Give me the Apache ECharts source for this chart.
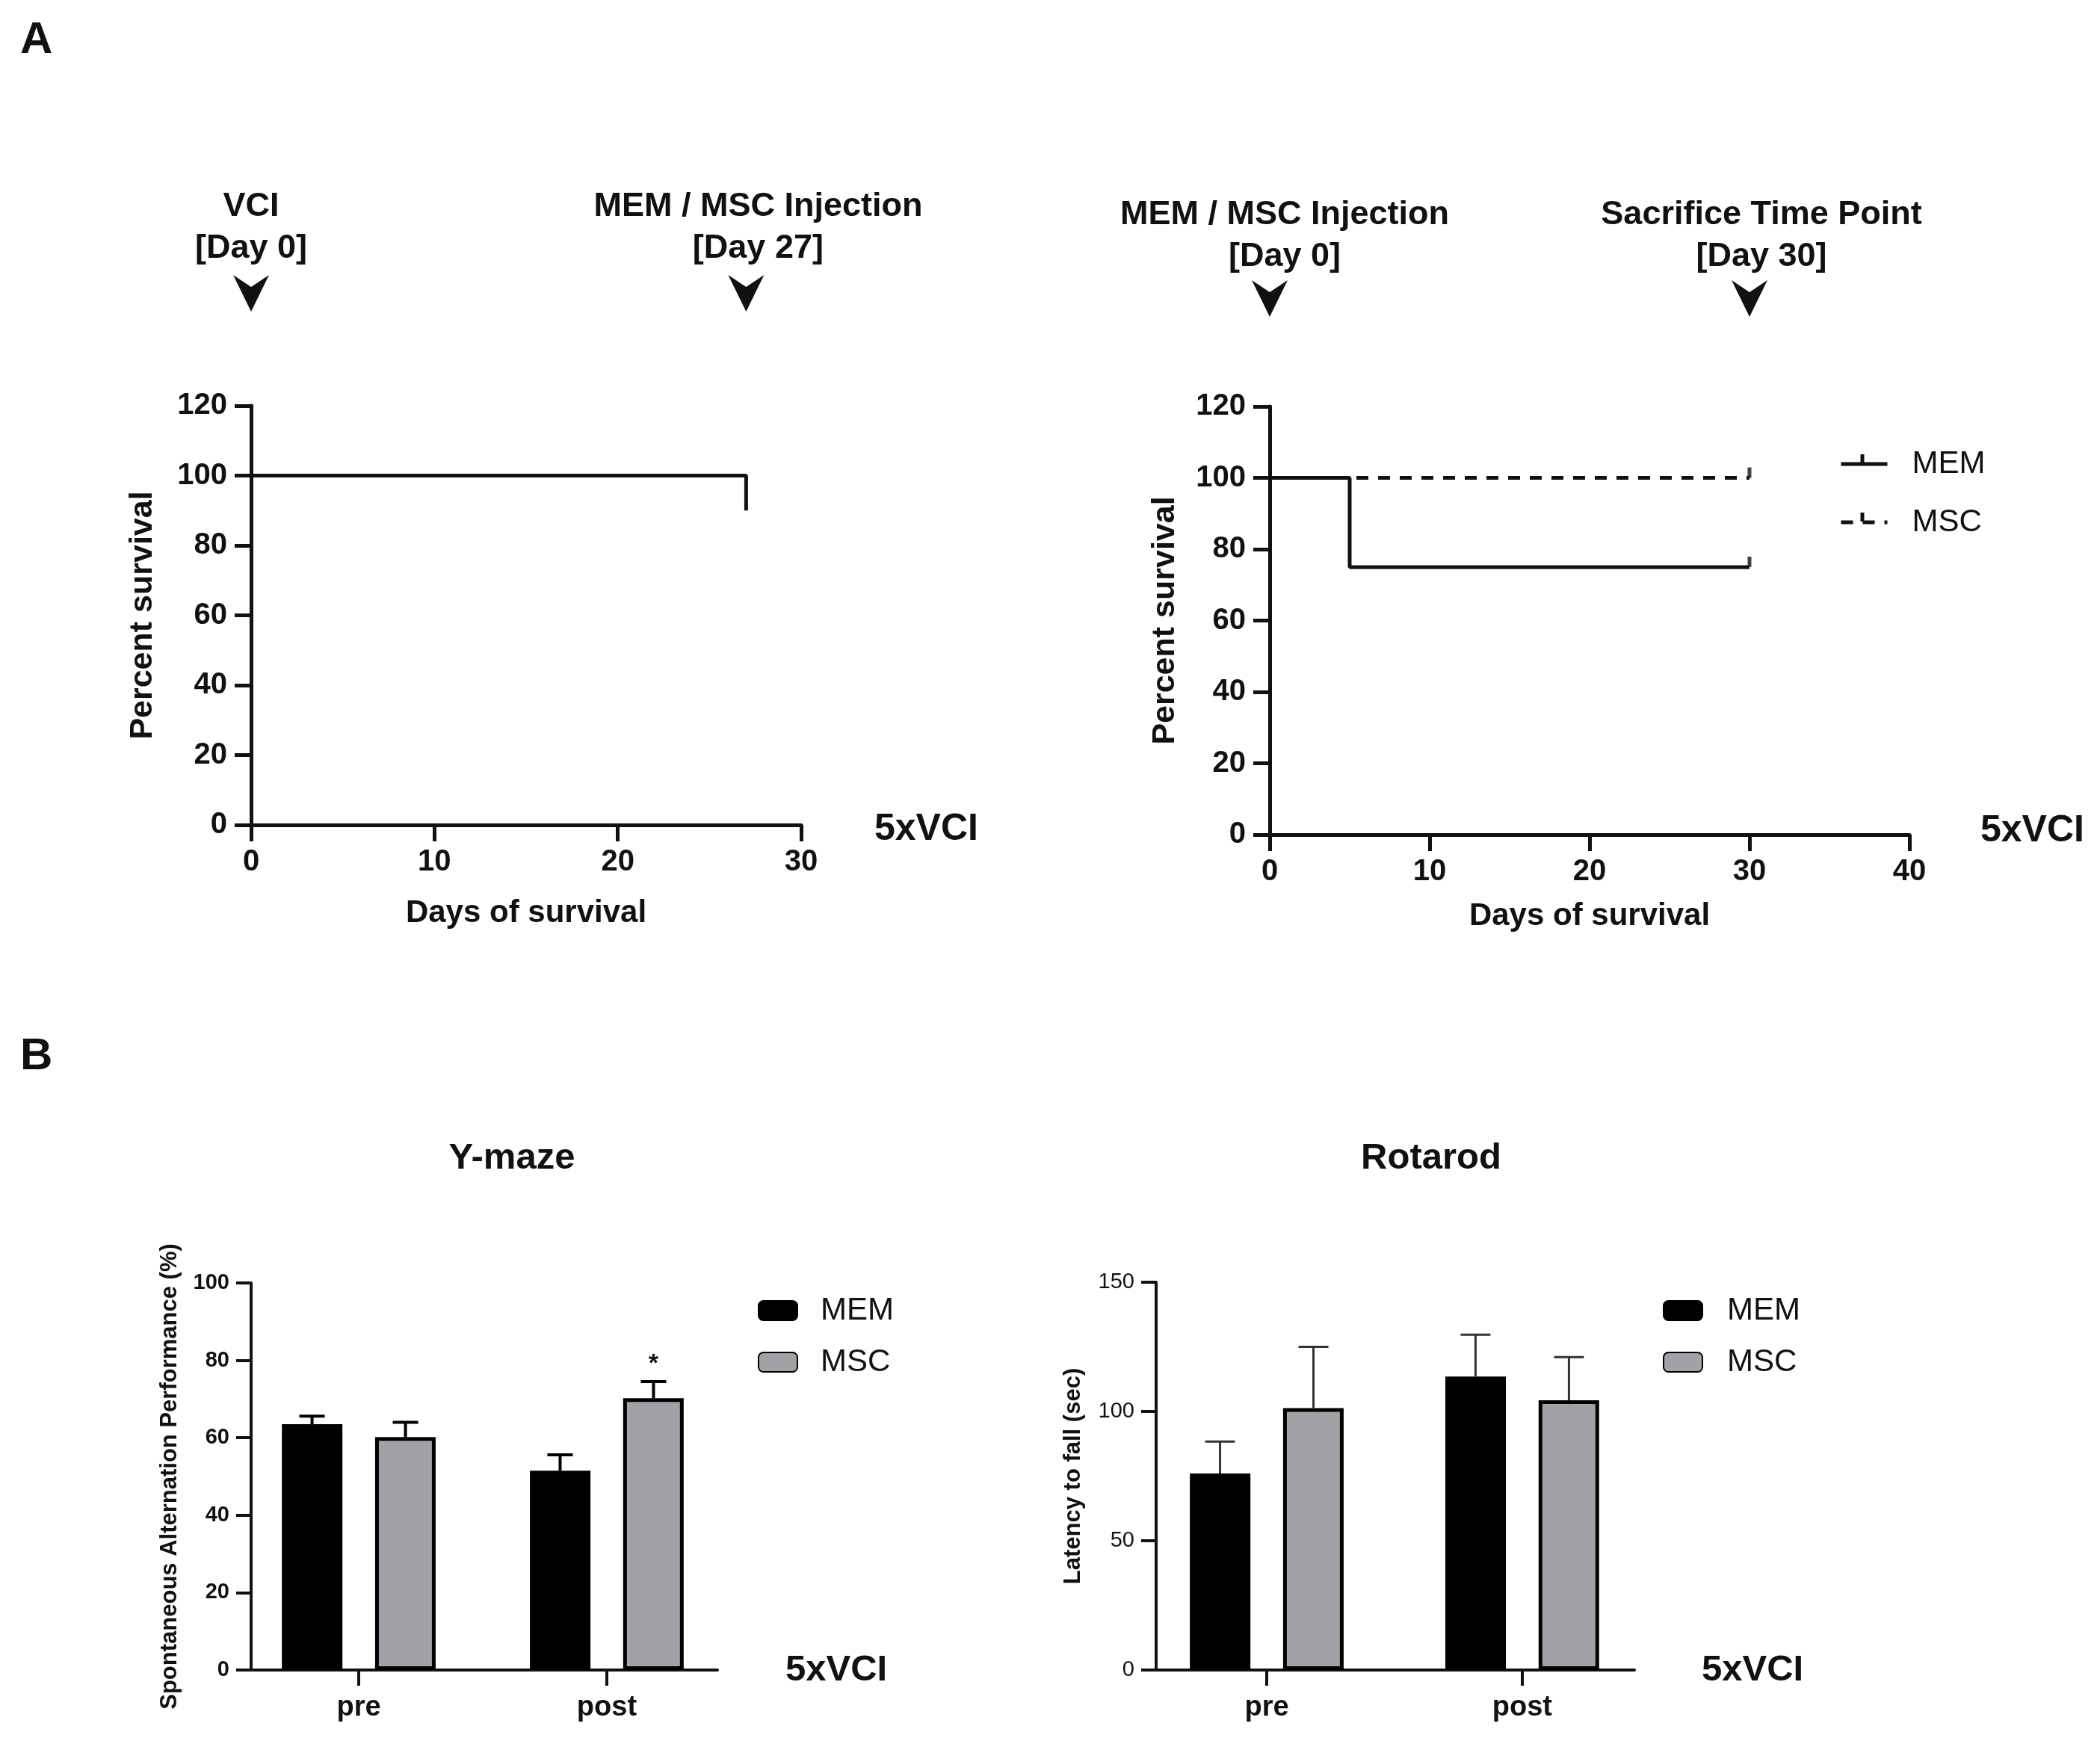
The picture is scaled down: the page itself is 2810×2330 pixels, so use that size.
<!DOCTYPE html>
<html>
<head>
<meta charset="utf-8">
<script src="https://cdn.jsdelivr.net/npm/echarts@6/dist/echarts.min.js"></script>
<style>
html, body { margin: 0; padding: 0; background: #fff; }
#main { width: 2810px; height: 2330px; }
</style>
</head>
<body>
<div id="main"></div>
<script>
// ---- data ----
var vciSurvival = [[0, 100], [27, 90]];
var memSurvival = [[0, 100], [5, 75], [30, 75]];
var mscSurvival = [[0, 100], [30, 100]];
var memCensor = [[30, 75]];
var mscCensor = [[30, 100]];

var phases = ['pre', 'post'];
var ymazeMem = [63.5, 51.5];
var ymazeMemErr = [2.1, 4.1];
var ymazeMsc = [60.2, 70.2];
var ymazeMscErr = [3.8, 4.3];
var ymazeMark = ['', '*'];

var rotaMem = [76, 113.5];
var rotaMemErr = [12.4, 16.2];
var rotaMsc = [101.3, 104.3];
var rotaMscErr = [23.7, 16.7];

// ---- style ----
var INK = '#111';
var GRAY = '#a2a2a6';
var FONT = 'Liberation Sans, Arial, sans-serif';
var BAR_W = 81, BAR_GAP = 44;

var myChart = echarts.init(document.getElementById('main'));

function pairs(vals) {
    return vals.map(function (v, i) { return [i, v]; });
}
function triples(vals, errs) {
    return vals.map(function (v, i) { return [i, v, v + errs[i]]; });
}

function axisStyle(width, tickLen, labelSize, labelWeight, margin) {
    return {
        axisLine: { show: true, onZero: false, lineStyle: { color: INK, width: width } },
        axisTick: { show: true, length: tickLen, lineStyle: { color: INK, width: width } },
        axisLabel: { margin: margin, fontSize: labelSize, fontWeight: labelWeight, color: INK,
            fontFamily: FONT, showMinLabel: true, showMaxLabel: true },
        splitLine: { show: false }
    };
}

function survX(grid, max, gap) {
    var a = axisStyle(5, 22, 40, 'bold', 30);
    a.gridIndex = grid; a.type = 'value'; a.min = 0; a.max = max; a.interval = 10;
    a.name = 'Days of survival'; a.nameLocation = 'middle'; a.nameGap = gap;
    a.nameTextStyle = { fontSize: 42, fontWeight: 'bold', color: INK, fontFamily: FONT };
    return a;
}
function survY(grid, gap) {
    var a = axisStyle(5, 22, 40, 'bold', 32);
    a.gridIndex = grid; a.type = 'value'; a.min = 0; a.max = 120; a.interval = 20;
    a.name = 'Percent survival'; a.nameLocation = 'middle'; a.nameGap = gap; a.nameRotate = 90;
    a.nameTextStyle = { fontSize: 43, fontWeight: 'bold', color: INK, fontFamily: FONT };
    return a;
}
function phaseX(grid, min, max) {
    var a = axisStyle(4, 21, 38, 'bold', 32);
    a.gridIndex = grid; a.type = 'value'; a.min = min; a.max = max;
    a.axisTick.customValues = [0, 1];
    a.axisLabel.customValues = [0, 1];
    a.axisLabel.formatter = function (v) { return phases[Math.round(v)]; };
    return a;
}
function barY(grid, max, interval, name, gap, weight) {
    var a = axisStyle(4, 20, 29, weight, 29);
    a.gridIndex = grid; a.type = 'value'; a.min = 0; a.max = max; a.interval = interval;
    a.name = name; a.nameLocation = 'middle'; a.nameGap = gap; a.nameRotate = 90;
    a.nameTextStyle = { fontSize: 31, fontWeight: 'bold', color: INK, fontFamily: FONT };
    return a;
}

function errorSeries(grid, data, offset, lw, cap, color, marks) {
    return {
        type: 'custom', xAxisIndex: grid, yAxisIndex: grid, z: 5,
        data: data,
        encode: { x: 0, y: [1, 2] },
        renderItem: function (params, api) {
            var base = api.coord([api.value(0), api.value(1)]);
            var top = api.coord([api.value(0), api.value(2)]);
            var x = base[0] + offset;
            var st = { stroke: color, lineWidth: lw };
            var kids = [
                { type: 'line', shape: { x1: x, y1: base[1], x2: x, y2: top[1] }, style: st },
                { type: 'line', shape: { x1: x - cap / 2, y1: top[1], x2: x + cap / 2, y2: top[1] }, style: st }
            ];
            if (marks && marks[params.dataIndex]) {
                kids.push({ type: 'text', x: x, y: top[1] - 6,
                    style: { text: marks[params.dataIndex], font: 'bold 34px ' + FONT,
                        fill: INK, align: 'center', verticalAlign: 'bottom' } });
            }
            return { type: 'group', children: kids };
        }
    };
}

function barSeries(name, grid, vals, color) {
    return {
        name: name, type: 'bar', xAxisIndex: grid, yAxisIndex: grid,
        data: pairs(vals), barWidth: BAR_W, barGap: (BAR_GAP / BAR_W * 100).toFixed(0) + '%',
        itemStyle: { color: color, borderColor: '#000', borderWidth: 5 }
    };
}

function legendAt(left, top, names, w, h, gap, pad) {
    return {
        orient: 'vertical', left: left, top: top, padding: 0,
        data: names, itemWidth: w, itemHeight: h, itemGap: gap,
        formatter: function (n) { return n.split('-')[1]; },
        textStyle: { fontSize: 42, color: INK, fontFamily: FONT, padding: [0, 0, 0, pad] }
    };
}

var off = (BAR_W + BAR_GAP) / 2;
var kmLegend = legendAt(2461, 600, ['km-MEM', 'km-MSC'], 62, 20, 36, 28);
kmLegend.itemStyle = { opacity: 0 };
kmLegend.lineStyle = { width: 5 };

option = {
    backgroundColor: '#fff',
    animation: false,
    textStyle: { fontFamily: FONT },
    grid: [
        { left: 336, top: 543, width: 736, height: 561, outerBoundsMode: 'none' },
        { left: 1699, top: 544, width: 856, height: 573, outerBoundsMode: 'none' },
        { left: 336, top: 1717, width: 624, height: 518, outerBoundsMode: 'none' },
        { left: 1547, top: 1716, width: 640, height: 519, outerBoundsMode: 'none' }
    ],
    xAxis: [
        survX(0, 30, 97),
        survX(1, 40, 88),
        phaseX(2, -0.434, 1.446),
        phaseX(3, -0.433, 1.439)
    ],
    yAxis: [
        survY(0, 123),
        survY(1, 118),
        barY(2, 100, 20, 'Spontaneous Alternation Performance (%)', 93, 'bold'),
        barY(3, 150, 50, 'Latency to fall (sec)', 95, 'normal')
    ],
    legend: [
        kmLegend,
        legendAt(1014, 1733, ['ym-MEM', 'ym-MSC'], 52, 26, 27, 26),
        legendAt(2225, 1733, ['rr-MEM', 'rr-MSC'], 52, 26, 27, 28)
    ],
    series: [
        {
            name: 'km-VCI', type: 'line', xAxisIndex: 0, yAxisIndex: 0, step: 'end',
            data: vciSurvival, symbol: 'none', lineStyle: { color: INK, width: 5 }
        },
        {
            name: 'km-MEM', type: 'line', xAxisIndex: 1, yAxisIndex: 1, step: 'end',
            data: memSurvival, symbol: 'none', itemStyle: { color: INK },
            lineStyle: { color: INK, width: 5 }
        },
        {
            name: 'km-MSC', type: 'line', xAxisIndex: 1, yAxisIndex: 1, step: 'end', z: 3,
            data: mscSurvival, symbol: 'none', itemStyle: { color: INK },
            lineStyle: { color: INK, width: 5, type: [16, 13] }
        },
        {
            type: 'scatter', xAxisIndex: 1, yAxisIndex: 1, data: memCensor.concat(mscCensor),
            symbol: 'rect', symbolSize: [5, 14], symbolOffset: [0, -7], itemStyle: { color: INK }
        },
        barSeries('ym-MEM', 2, ymazeMem, '#000'),
        barSeries('ym-MSC', 2, ymazeMsc, GRAY),
        errorSeries(2, triples(ymazeMem, ymazeMemErr), -off, 4, 34, '#000'),
        errorSeries(2, triples(ymazeMsc, ymazeMscErr), off, 4, 34, '#000', ymazeMark),
        barSeries('rr-MEM', 3, rotaMem, '#000'),
        barSeries('rr-MSC', 3, rotaMsc, GRAY),
        errorSeries(3, triples(rotaMem, rotaMemErr), -off, 3, 40, '#333'),
        errorSeries(3, triples(rotaMsc, rotaMscErr), off, 3, 40, '#333')
    ]
};
myChart.setOption(option);

// annotations tied to the day axes
function txt(x, y, s, size, align) {
    return { type: 'text', x: x, y: y, z: 10,
        style: { text: s, font: 'bold ' + size + 'px ' + FONT, fill: INK,
            align: align || 'center', verticalAlign: 'middle' } };
}
function arrow(x, top) {
    return { type: 'polygon', z: 10,
        shape: { points: [[x - 24, top], [x, top + 16], [x + 24, top], [x, top + 49]] },
        style: { fill: INK } };
}
function tick(x, y, h) {
    return { type: 'rect', z: 10, shape: { x: x - 2.5, y: y - h, width: 5, height: h }, style: { fill: INK } };
}
function dayX(grid, day) {
    return myChart.convertToPixel({ xAxisIndex: grid, yAxisIndex: grid }, [day, 0])[0];
}
var d0 = dayX(0, 0), d27 = dayX(0, 27), r0 = dayX(1, 0), r30 = dayX(1, 30);

myChart.setOption({
    graphic: [
        txt(27, 54, 'A', 60, 'left'),
        txt(27, 1414, 'B', 60, 'left'),
        txt(d0, 277, 'VCI', 45), txt(d0, 333, '[Day 0]', 45), arrow(d0, 368),
        txt(d27 + 16, 277, 'MEM / MSC Injection', 45), txt(d27 + 16, 333, '[Day 27]', 45), arrow(d27, 368),
        txt(r0 + 20, 288, 'MEM / MSC Injection', 45), txt(r0 + 20, 344, '[Day 0]', 45), arrow(r0, 375),
        txt(r30 + 16, 288, 'Sacrifice Time Point', 45), txt(r30 + 16, 344, '[Day 30]', 45), arrow(r30, 375),
        tick(2492, 620, 12), tick(2492, 698, 12),
        txt(1170, 1110, '5xVCI', 50, 'left'),
        txt(2650, 1112, '5xVCI', 50, 'left'),
        txt(685, 1550, 'Y-maze', 49),
        txt(1915, 1550, 'Rotarod', 49),
        txt(1051, 2235, '5xVCI', 49, 'left'),
        txt(2277, 2235, '5xVCI', 49, 'left')
    ]
});
</script>
</body>
</html>
